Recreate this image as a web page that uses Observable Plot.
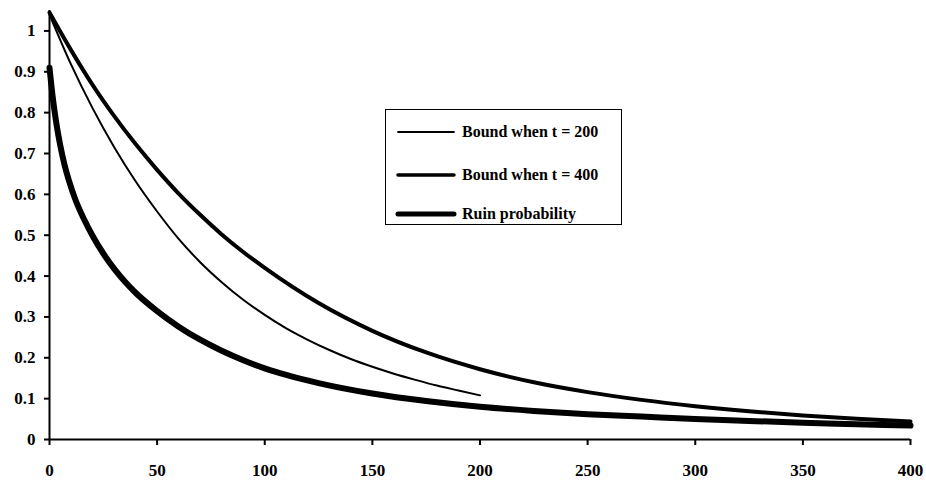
<!DOCTYPE html>
<html><head><meta charset="utf-8">
<script src="https://cdn.jsdelivr.net/npm/d3@7"></script>
<script src="https://cdn.jsdelivr.net/npm/@observablehq/plot@0.6"></script>
<style>
body{margin:0;background:#fff;}
#wrap{position:relative;width:926px;height:481px;}
#legend{position:absolute;left:385px;top:109px;width:237px;height:116px;border:1.5px solid #000;background:#fff;box-sizing:border-box;font-family:"Liberation Serif",serif;font-weight:bold;font-size:16px;color:#000;}
#legend .row{position:absolute;left:0;height:20px;display:flex;align-items:center;}
#legend .row span{white-space:nowrap;}
</style></head><body><div id="wrap"></div>
<script>
// Bound when t = 200
const xT200 = [0,10,20,30,40,50,60,70,80,90,100,110,120,130,140,150,160,170,180,190,200];
const yT200 = [1.04,0.918,0.811,0.716,0.632,0.558,0.491,0.434,0.385,0.342,0.305,0.272,0.244,0.219,0.197,0.178,0.161,0.146,0.132,0.12,0.108];
// Bound when t = 400
const xT400 = [0,10,20,30,40,50,60,70,80,90,100,125,150,175,200,225,250,275,300,325,350,375,400];
const yT400 = [1.045,0.953,0.868,0.792,0.723,0.66,0.602,0.55,0.502,0.459,0.42,0.334,0.266,0.213,0.172,0.14,0.116,0.097,0.0815,0.069,0.059,0.051,0.044];
// Ruin probability
const xRuin = [0,1,2,3,4,5,7,9,12,16,20,25,30,35,40,50,60,70,80,90,100,110,125,150,175,200,225,250,275,300,325,350,375,400];
const yRuin = [0.91,0.86,0.817,0.78,0.748,0.72,0.672,0.634,0.5875,0.5395,0.4987,0.4552,0.4182,0.3867,0.3592,0.3142,0.2762,0.2442,0.2172,0.1942,0.1742,0.158,0.138,0.1125,0.094,0.08,0.07,0.062,0.056,0.05,0.0455,0.041,0.0375,0.034];

const xTicks = [0,50,100,150,200,250,300,350,400];
const yTicks = [0,0.1,0.2,0.3,0.4,0.5,0.6,0.7,0.8,0.9,1];
const seriesNames = ["Bound when t = 200","Bound when t = 400","Ruin probability"];
const seriesWidths = [2,4,6];

const rows = (xs, ys) => xs.map((x,i)=>({x, y: ys[i]}));
const d200 = rows(xT200,yT200), d400 = rows(xT400,yT400), dRuin = rows(xRuin,yRuin);

const chart = Plot.plot({
  width:926, height:481,
  marginLeft:49, marginRight:16, marginTop:10, marginBottom:42,
  x:{domain:[0,400]},
  y:{domain:[0,1.05]},
  style:{fontFamily:"'Liberation Serif', serif", fontWeight:"bold", fontSize:"17px", color:"#000", background:"#fff"},
  marks:[
    Plot.axisY({ticks:yTicks, tickSize:5, tickPadding:9, strokeWidth:2, tickFormat:d=>String(+d.toFixed(1)), label:null}),
    Plot.axisX({ticks:xTicks, tickSize:6, tickPadding:18, strokeWidth:2, label:null}),
    Plot.ruleX([0],{stroke:"#000", strokeWidth:2}),
    Plot.ruleY([0],{stroke:"#000", strokeWidth:2}),
    Plot.line(d200,{x:"x",y:"y",stroke:"#000",strokeWidth:seriesWidths[0],curve:"monotone-x"}),
    Plot.line(d400,{x:"x",y:"y",stroke:"#000",strokeWidth:seriesWidths[1],curve:"monotone-x"}),
    Plot.line(dRuin,{x:"x",y:"y",stroke:"#000",strokeWidth:seriesWidths[2],curve:"monotone-x"})
  ]
});
const wrap = document.getElementById("wrap");
wrap.appendChild(chart);

const leg = document.createElement("div");
leg.id = "legend";
const tops = [12,55,94];
seriesNames.forEach((name,i)=>{
  const r = document.createElement("div");
  r.className = "row";
  r.style.top = tops[i]+"px";
  r.innerHTML = `<svg width="76" height="20"><line x1="12" y1="10" x2="68" y2="10" stroke="#000" stroke-width="${[1.8,3.5,5][i]}" stroke-linecap="round"/></svg><span>${name}</span>`;
  leg.appendChild(r);
});
wrap.appendChild(leg);
</script>
</body></html>
